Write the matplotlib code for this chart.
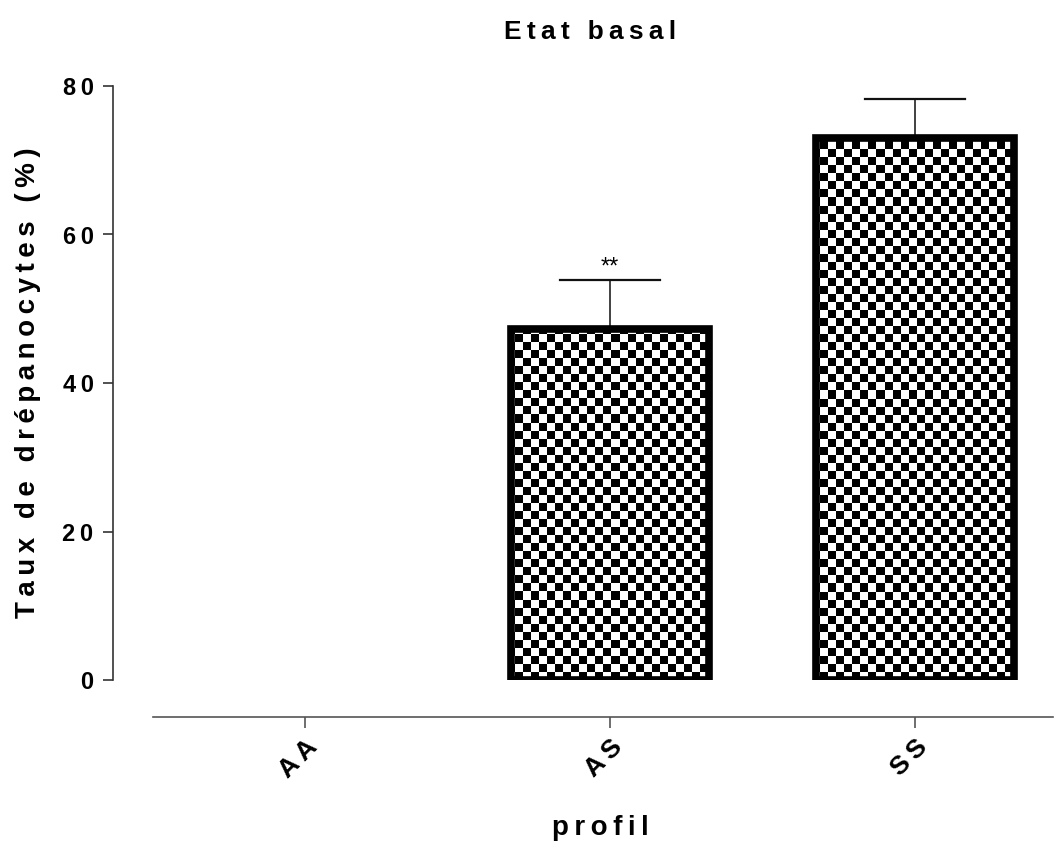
import numpy as np
import matplotlib
matplotlib.use('Agg')
import matplotlib.pyplot as plt

# data
profils = ['AA', 'AS', 'SS']
taux = [np.nan, 47.3, 73.0]
sem = [np.nan, 6.6, 5.3]
signif = ['', '**', '']

plt.rcParams['font.family'] = ['Liberation Sans', 'DejaVu Sans']
plt.rcParams['font.weight'] = 'bold'


def spaced(s):
    # imitate the wide letter spacing of the original
    return '\u2009'.join(s)


fig = plt.figure(figsize=(10.57, 8.46), dpi=100)
ax = fig.add_axes([153 / 1057, 1 - 680 / 846, 900 / 1057, 594 / 846])

x = np.arange(len(profils))
bars = ax.bar(x, taux, 0.65, facecolor='none', edgecolor='black', linewidth=5.5, zorder=2)

# upper error bars only
for xi, v, e in zip(x, taux, sem):
    if np.isnan(v):
        continue
    ax.plot([xi, xi], [v, v + e], color='#333333', lw=1.3, zorder=1)
    ax.plot([xi - 0.165, xi + 0.165], [v + e, v + e], color='#111111', lw=1.6, zorder=1)

for xi, v, e, s in zip(x, taux, sem, signif):
    if s:
        ax.text(xi, v + e + 0.2, s, ha='center', va='bottom', fontsize=17, fontweight='normal')

ax.set_xlim(-0.498, 2.452)
ax.set_ylim(0, 80)

# checkerboard fill, clipped to each bar
ncol, nrow = 112, 74
checker = (np.add.outer(np.arange(nrow), np.arange(ncol)) % 2).astype(float)
for b in bars:
    if np.isnan(b.get_height()):
        continue
    im = ax.imshow(checker, cmap='gray', interpolation='nearest', aspect='auto',
                   extent=(0, 1, 0, 1), transform=ax.transAxes, zorder=1.5)
    im.set_clip_path(b)
ax.set_xlim(-0.498, 2.452)
ax.set_ylim(0, 80)

ax.spines['top'].set_visible(False)
ax.spines['right'].set_visible(False)
ax.spines['left'].set_position(('outward', 28.8))
ax.spines['bottom'].set_position(('outward', 26.6))
ax.spines['left'].set_color('#333333')
ax.spines['bottom'].set_color('#555555')
ax.spines['left'].set_linewidth(1.2)
ax.spines['bottom'].set_linewidth(1.2)

ax.set_yticks([0, 20, 40, 60, 80])
ax.set_yticklabels([spaced(str(t)) for t in [0, 20, 40, 60, 80]], fontsize=17, fontweight='bold')
ax.tick_params(axis='y', length=7, width=1.2, color='#333333', pad=7)
ax.set_xticks(x)
ax.set_xticklabels([spaced(p) for p in profils], fontsize=19, fontweight='bold',
                   rotation=45, ha='right', rotation_mode='anchor')
ax.tick_params(axis='x', length=8, width=1.2, color='#555555', pad=5)

fig.text(590 / 1057, 1 - 32 / 846, spaced('Etat basal'), ha='center', va='center',
         fontsize=19, fontweight='bold')
fig.text(600 / 1057, 1 - 828 / 846, spaced('profil'), ha='center', va='center',
         fontsize=20, fontweight='bold')
fig.text(28 / 1057, 1 - 383 / 846, spaced('Taux de drépanocytes (%)'), ha='center', va='center',
         rotation=90, fontsize=20, fontweight='bold')

fig.savefig('out.png', dpi=100)
